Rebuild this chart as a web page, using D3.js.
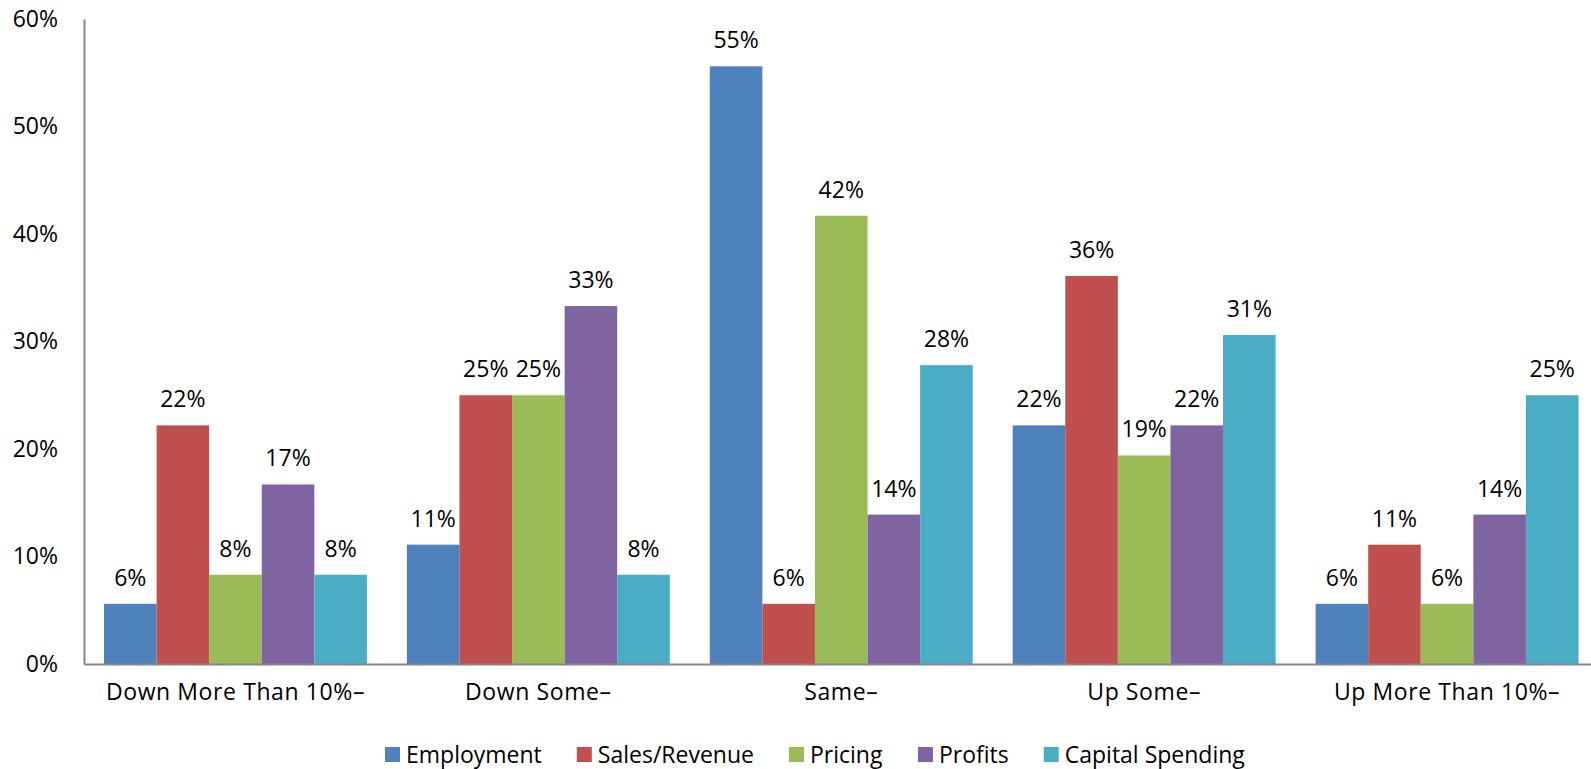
<!DOCTYPE html>
<html>
<head>
<meta charset="utf-8">
<script src="https://cdn.jsdelivr.net/npm/d3@7"></script>
<style>
html,body{margin:0;padding:0;background:#fff;}
svg{display:block;}
text{font-family:"Open Sans",Lato,sans-serif;fill:#000;}
</style>
</head>
<body>
<svg id="chart" width="1591" height="769"></svg>
<script>
const categories = ["Down More Than 10%–", "Down Some–", "Same–", "Up Some–", "Up More Than 10%–"];
const seriesNames = ["Employment", "Sales/Revenue", "Pricing", "Profits", "Capital Spending"];
const employment = [5.6, 11.1, 55.6, 22.2, 5.6];
const salesRevenue = [22.2, 25.0, 5.6, 36.1, 11.1];
const pricing = [8.3, 25.0, 41.7, 19.4, 5.6];
const profits = [16.7, 33.3, 13.9, 22.2, 13.9];
const capitalSpending = [8.3, 8.3, 27.8, 30.6, 25.0];
const employmentLabels = ["6%", "11%", "55%", "22%", "6%"];
const salesRevenueLabels = ["22%", "25%", "6%", "36%", "11%"];
const pricingLabels = ["8%", "25%", "42%", "19%", "6%"];
const profitsLabels = ["17%", "33%", "14%", "22%", "14%"];
const capitalSpendingLabels = ["8%", "8%", "28%", "31%", "25%"];
const yTicks = [0, 10, 20, 30, 40, 50, 60];
const colors = ["#4F81BD", "#C0504D", "#9BBB59", "#8064A2", "#4BACC6"];

const seriesValues = [employment, salesRevenue, pricing, profits, capitalSpending];
const seriesLabels = [employmentLabels, salesRevenueLabels, pricingLabels, profitsLabels, capitalSpendingLabels];

const svg = d3.select("#chart");
const mLeft = 84, mRight = 1598.5, mTop = 19, mBottom = 664;
const fontSize = 23;

const y = d3.scaleLinear().domain([0, 60]).range([mBottom, mTop]);
const x0 = d3.scaleBand().domain(categories).range([mLeft, mRight]).padding(0);
const x1 = d3.scaleBand().domain(seriesNames).range([0, x0.bandwidth()]).paddingInner(0).paddingOuter(0.38);
const color = d3.scaleOrdinal().domain(seriesNames).range(colors);

// y axis
const yAxis = d3.axisLeft(y).tickValues(yTicks).tickFormat(d => d + "%").tickSize(0).tickPadding(26);
const gy = svg.append("g").attr("transform", `translate(${mLeft},0)`).call(yAxis);
gy.select(".domain").attr("stroke", "#868686").attr("stroke-width", 2);
gy.selectAll("text").style("font-size", fontSize + "px").attr("fill", "#000");

// bars
const data = [];
categories.forEach((c, i) => {
  seriesNames.forEach((s, j) => {
    data.push({cat: c, series: s, value: seriesValues[j][i], label: seriesLabels[j][i]});
  });
});

const groups = svg.append("g");
groups.selectAll("rect").data(data).join("rect")
  .attr("x", d => x0(d.cat) + x1(d.series))
  .attr("y", d => y(d.value))
  .attr("width", x1.bandwidth())
  .attr("height", d => y(0) - y(d.value))
  .attr("fill", d => color(d.series));

groups.selectAll("text.lbl").data(data).join("text")
  .attr("class", "lbl")
  .attr("x", d => x0(d.cat) + x1(d.series) + x1.bandwidth() / 2)
  .attr("y", d => y(d.value) - 18)
  .attr("text-anchor", "middle")
  .style("font-size", fontSize + "px")
  .text(d => d.label);

// x axis
const xAxis = d3.axisBottom(x0).tickSize(0).tickPadding(20);
const gx = svg.append("g").attr("transform", `translate(0,${mBottom})`).call(xAxis);
gx.select(".domain").attr("stroke", "#868686").attr("stroke-width", 2);
gx.selectAll("text").style("font-size", fontSize + "px").style("letter-spacing", "0.6px").attr("fill", "#000");

// legend
const legend = svg.append("g");
const items = legend.selectAll("g").data(seriesNames).join("g");
items.append("rect").attr("width", 15).attr("height", 15).attr("y", -8).attr("fill", d => color(d));
items.append("text").attr("x", 21).attr("dy", "0.35em").style("font-size", fontSize + "px").text(d => d);
let xpos = 0;
const offsets = [];
items.each(function() {
  offsets.push(xpos);
  const w = this.getBBox().width;
  xpos += w + 35;
});
const startX = 385;
items.attr("transform", (d, i) => `translate(${startX + offsets[i]},755)`);
</script>
</body>
</html>
